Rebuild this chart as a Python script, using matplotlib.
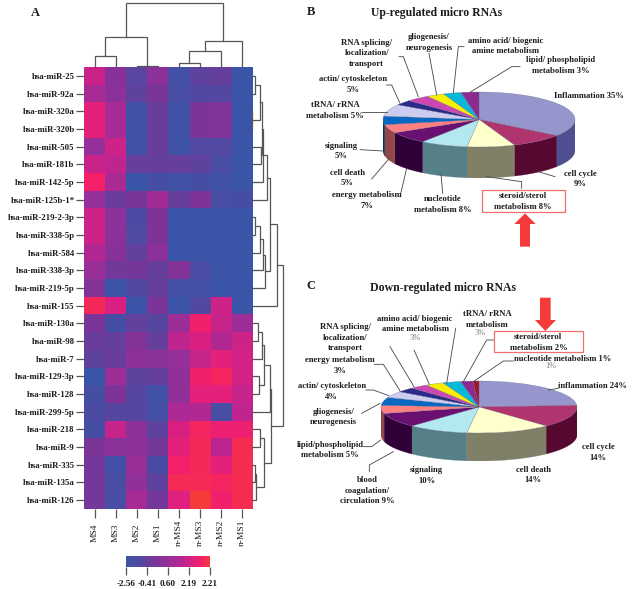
import numpy as np
import matplotlib
matplotlib.use("Agg")
import matplotlib.pyplot as plt
from matplotlib.colors import LinearSegmentedColormap
from matplotlib.patches import Polygon, Rectangle

W, H = 640, 589
plt.rcParams['font.family'] = ['Liberation Serif', 'DejaVu Serif']

# heatmap data, colour scale position 0 (blue) .. 10 (red)
samples = ["MS4", "MS3", "MS2", "MS1", "n-MS4", "n-MS3", "n-MS2", "n-MS1"]
mirnas = ["hsa-miR-25", "hsa-miR-92a", "hsa-miR-320a", "hsa-miR-320b", "hsa-miR-505",
          "hsa-miR-181b", "hsa-miR-142-5p", "hsa-miR-125b-1*", "hsa-miR-219-2-3p",
          "hsa-miR-338-5p", "hsa-miR-584", "hsa-miR-338-3p", "hsa-miR-219-5p", "hsa-miR-155",
          "hsa-miR-130a", "hsa-miR-98", "hsa-miR-7", "hsa-miR-129-3p", "hsa-miR-128",
          "hsa-miR-299-5p", "hsa-miR-218", "hsa-miR-9", "hsa-miR-335", "hsa-miR-135a",
          "hsa-miR-126"]
levels = [
    [7.3, 4.3, 2.0, 4.5, 0.6, 2.3, 2.6, 0.0],
    [5.8, 4.5, 2.2, 3.5, 1.0, 1.6, 1.6, 0.0],
    [8.2, 5.8, 0.5, 2.8, 0.5, 3.6, 3.9, 0.0],
    [8.2, 5.8, 0.5, 2.8, 0.5, 3.6, 3.9, 0.0],
    [5.0, 7.4, 0.5, 2.8, 0.3, 1.5, 1.5, 0.0],
    [7.3, 7.0, 2.6, 2.6, 2.6, 2.2, 1.0, 0.0],
    [9.0, 6.0, 0.0, 0.8, 0.4, 0.8, 0.5, 0.0],
    [5.0, 2.8, 3.5, 5.6, 2.6, 3.8, 1.0, 0.8],
    [7.4, 4.5, 1.2, 3.8, 0.0, 0.0, 0.0, 0.0],
    [7.4, 4.5, 1.4, 3.8, 0.0, 0.0, 0.0, 0.0],
    [6.4, 4.3, 2.4, 4.5, 0.0, 0.0, 0.0, 0.0],
    [5.2, 3.2, 3.3, 2.6, 4.0, 1.0, 0.0, 0.0],
    [4.0, 0.0, 1.6, 2.6, 0.6, 0.6, 0.0, 0.0],
    [9.3, 7.8, 0.0, 3.6, 0.0, 1.6, 7.4, 0.0],
    [3.6, 0.8, 2.4, 1.8, 5.4, 8.8, 7.2, 5.4],
    [2.8, 2.6, 4.0, 2.6, 7.0, 7.8, 6.4, 7.4],
    [2.2, 2.8, 4.6, 4.4, 5.0, 7.2, 8.2, 7.6],
    [0.0, 5.4, 2.2, 2.6, 4.8, 8.8, 9.2, 7.6],
    [0.8, 3.8, 1.8, 0.4, 4.8, 8.2, 8.2, 7.2],
    [1.2, 1.8, 1.8, 0.6, 6.2, 6.4, 1.0, 7.0],
    [0.8, 7.2, 4.6, 2.2, 7.8, 9.2, 8.6, 8.6],
    [3.6, 4.4, 4.6, 3.2, 8.2, 9.3, 6.8, 9.5],
    [3.2, 0.6, 5.2, 1.2, 9.0, 9.3, 8.2, 9.5],
    [3.2, 1.0, 4.8, 2.2, 9.4, 9.4, 9.2, 9.5],
    [3.2, 1.0, 5.8, 3.2, 8.0, 10.0, 8.8, 9.5],
]
colorbar_labels = ["-2.56", "-0.41", "0.60", "2.19", "2.21"]

# dendrograms as (left, right, height in px)
ms_group = ((0, 1, 11), (2, 3, 0.7), 30)
nms_group = (((4, 5, 4), 6, 16), 7, 26)
top_tree = (ms_group, nms_group, 64)

upper_a = ((0, 1, 3), (2, 3, 0.3), 7.5)
upper_b = (upper_a, (4, 5, 8.7), 9.5)
upper = ((upper_b, 6, 11.3), 7, 15)
middle = ((((8, 9, 3), 10, 8), 11, 10.5), 12, 13)
blue_side = ((upper, middle, 18), 13, 24.7)
lower_a = ((((14, 15, 6.3), 16, 9.7), (17, 18, 7), 12), 19, 18)
lower_b = ((20, 21, 8.3), ((22, 23, 3), 24, 4), 12.3)
side_tree = (blue_side, (lower_a, lower_b, 19), 31)

# pie data, percentages clockwise from 12 o'clock
up_values = [35, 9, 8, 8, 7, 5, 5, 7, 3, 4, 3, 3, 3]
up_colors = ["#9696CC", "#B0346E", "#FFFFCC", "#B4E8F0", "#6A1070", "#FF8080", "#0668C0",
             "#CCCCF0", "#2A2A88", "#CC48B0", "#F8F000", "#08B8D8", "#8C2A90"]
up_sides = ["#4E4E90", "#560830", "#808068", "#568088", "#300038", "#904848", "#033460",
            "#666680", "#151544", "#662458", "#807800", "#045C6C", "#461548"]
down_values = [24, 14, 14, 10, 9, 5, 5, 4, 3, 3, 3, 3, 2, 1]
down_colors = up_colors + ["#A01828"]
down_sides = up_sides + ["#500C14"]

up_labels = [
    ("RNA splicing/\nlocalization/\ntransport", 230, 160),
    ("gliogenesis/\nneurogenesis", 417, 128),
    ("amino acid/ biogenic\namine metabolism", 647, 138),
    ("lipid/ phospholipid\nmetabolism 3%", 813, 197),
    ("Inflammation 35%", 897, 288),
    ("actin/ cytoskeleton\n5%", 188, 253),
    ("tRNA/ rRNA\nmetabolism 5%", 135, 331),
    ("signaling\n5%", 153, 453),
    ("cell death\n5%", 171, 534),
    ("energy metabolism\n7%", 230, 602),
    ("nucleotide\nmetabolism 8%", 457, 613),
    ("steroid/sterol\nmetabolism 8%", 698, 605),
    ("cell cycle\n9%", 870, 537),
]
up_leaders = [
    [(327, 170), (340, 170), (385, 290)], [(417, 160), (440, 285)],
    [(522, 140), (505, 140), (490, 278)], [(690, 200), (665, 200), (540, 277)],
    [(290, 255), (305, 255), (330, 310)], [(215, 335), (290, 335)],
    [(210, 449), (280, 453)], [(245, 537), (298, 475)], [(330, 590), (350, 505)],
    [(458, 580), (453, 522)], [(695, 565), (695, 545), (590, 530)], [(795, 530), (745, 515)],
]
down_labels = [
    ("RNA splicing/\nlocalization/\ntransport", 165, 188),
    ("amino acid/ biogenic\namine metabolism", 375, 147),
    ("tRNA/ rRNA\nmetabolism", 592, 133),
    ("steroid/sterol\nmetabolism 2%", 745, 202),
    ("nucleotide metabolism 1%", 817, 252),
    ("energy metabolism\n3%", 150, 272),
    ("actin/ cytoskeleton\n4%", 125, 350),
    ("gliogenesis/\nneurogenesis", 130, 426),
    ("lipid/phospholipid\nmetabolism 5%", 120, 525),
    ("blood\ncoagulation/\ncirculation 9%", 233, 647),
    ("signaling\n10%", 410, 602),
    ("cell death\n14%", 730, 600),
    ("cell cycle\n14%", 924, 532),
    ("inflammation 24%", 906, 333),
]
down_notes = [("3%", 375, 188), ("3%", 570, 174), ("1%", 783, 272)]
down_leaders = [
    [(300, 215), (372, 335)], [(372, 225), (418, 328)], [(497, 160), (470, 325)],
    [(610, 195), (590, 195), (520, 320)], [(670, 258), (640, 258), (550, 320)],
    [(253, 268), (280, 268), (330, 347)], [(228, 345), (250, 345), (297, 362)],
    [(215, 415), (270, 385)], [(220, 515), (245, 515), (272, 495)],
    [(238, 590), (238, 570), (310, 530)], [(805, 340), (775, 345)],
]

heat_cmap = LinearSegmentedColormap.from_list("heat", [
    (0.0, "#3A55A8"), (0.2, "#5A45A0"), (0.35, "#7A3598"), (0.5, "#95309A"),
    (0.7, "#C0258F"), (0.8, "#E0207F"), (0.9, "#F5206A"), (1.0, "#F53A3A")])

LINE = "#555555"
TXT = "#1c1c1c"
FS = 6.2

fig = plt.figure(figsize=(W / 100, H / 100), dpi=100, facecolor="white")


def px_axes(x0, y0, x1, y1):
    # axes from pixel box, y measured from the top of the image
    ax = fig.add_axes([x0 / W, 1 - y1 / H, (x1 - x0) / W, (y1 - y0) / H])
    return ax


def draw_tree(ax, node, vertical):
    if not isinstance(node, tuple):
        return node, 0
    a, ha = draw_tree(ax, node[0], vertical)
    b, hb = draw_tree(ax, node[1], vertical)
    h = node[2]
    xs, ys = [a, a, b, b], [ha, h, h, hb]
    if vertical:
        ax.plot(xs, ys, color=LINE, lw=0.9, solid_joinstyle="miter")
    else:
        ax.plot(ys, xs, color=LINE, lw=0.9, solid_joinstyle="miter")
    return (a + b) / 2, h


# heatmap
ax = px_axes(84, 67, 252, 509)
ax.imshow(np.array(levels), cmap=heat_cmap, vmin=0, vmax=10, aspect="auto", interpolation="nearest")
ax.set_yticks(range(len(mirnas)), mirnas, fontsize=FS + 0.1, fontweight="bold", color=TXT)
ax.set_xticks(range(len(samples)), samples, rotation=90, fontsize=6.8, color=TXT)
ax.tick_params(axis="y", length=5.8, width=0.9, color=LINE, pad=1)
ax.tick_params(axis="x", length=6.5, width=0.9, color=LINE, pad=10.5)
for t in ax.get_xticklabels():
    t.set_verticalalignment("center")
for s in ax.spines.values():
    s.set_visible(False)

top = px_axes(84, 0, 252, 67)
draw_tree(top, top_tree, True)
top.set_xlim(-0.5, 7.5)
top.set_ylim(0, 67)
top.axis("off")

side = px_axes(252, 67, 292, 509)
draw_tree(side, side_tree, False)
side.set_xlim(0, 40)
side.set_ylim(24.5, -0.5)
side.axis("off")

# colour bar
cb = px_axes(126, 556, 210, 567)
cb.imshow(np.linspace(0, 10, 128)[None, :], cmap=heat_cmap, aspect="auto", extent=[0, 4, 0, 1])
cb.set_yticks([])
cb.set_xticks(range(5), colorbar_labels, fontsize=6.6, fontweight="bold", color=TXT)
cb.tick_params(axis="x", length=6, width=0.9, color=LINE, pad=3)
for s in cb.spines.values():
    s.set_visible(False)


def draw_pie(cx, cy, rx, ry, depth, values, colors, sides):
    pie = px_axes(cx - rx, cy - ry, cx + rx, cy + ry + depth)
    d = depth / ry
    edges = np.cumsum([0] + values) / sum(values) * 360
    for i in range(len(values)):
        lo, hi = max(edges[i], 90), min(edges[i + 1], 270)
        if hi <= lo:
            continue
        t = np.radians(np.linspace(lo, hi, 40))
        xs = np.sin(t)
        ys = np.cos(t)
        pie.fill(np.r_[xs, xs[::-1]], np.r_[ys, ys[::-1] - d], color=sides[i], lw=0.2)
    pie.pie(values, colors=colors, startangle=90, counterclock=False,
            wedgeprops=dict(linewidth=0.2, edgecolor="#66668a"))
    pie.set_aspect("auto")
    pie.set_xlim(-1, 1)
    pie.set_ylim(-1 - d, 1)
    pie.patch.set_alpha(0)


draw_pie(479, 119.5, 96, 27.5, 31, up_values, up_colors, up_sides)
draw_pie(479, 407, 98, 26, 28, down_values, down_colors, down_sides)

# overlay in image pixels for the notes, leaders and arrows
ov = fig.add_axes([0, 0, 1, 1])
ov.set_xlim(0, W)
ov.set_ylim(H, 0)
ov.axis("off")
ov.patch.set_alpha(0)


def zoomed(x, y, y0):
    return 290 + x / 3, y0 + y / 3


def notes(labels, leaders, y0, box, arrow):
    for pts in leaders:
        xy = [zoomed(x, y, y0) for x, y in pts]
        ov.plot([p[0] for p in xy], [p[1] for p in xy], color="#444444", lw=0.6)
    for txt, x, y in labels:
        px, py = zoomed(x, y, y0)
        ov.text(px, py, txt, ha="center", va="center", fontsize=FS, fontweight="bold",
                color=TXT, linespacing=1.4)
    bx0, by0 = zoomed(box[0], box[1], y0)
    bx1, by1 = zoomed(box[2], box[3], y0)
    ov.add_patch(Rectangle((bx0, by0), bx1 - bx0, by1 - by0, fill=False, ec="#EE7070", lw=0.9))
    ov.add_patch(Polygon([zoomed(x, y, y0) for x, y in arrow], fc="#F53A3A", ec="none"))


notes(up_labels, up_leaders, 0, (575, 571, 825, 635),
      [(705, 640), (737, 672), (720, 672), (720, 740), (690, 740), (690, 672), (673, 672)])
notes(down_labels, down_leaders, 275, (612, 169, 878, 232),
      [(766, 168), (798, 135), (782, 135), (782, 68), (750, 68), (750, 135), (735, 135)])
for txt, x, y in down_notes:
    px, py = zoomed(x, y, 275)
    ov.text(px, py, txt, ha="center", va="center", fontsize=6, color="#777777")

ov.text(35, 13, "A", ha="center", va="center", fontsize=9, fontweight="bold", color=TXT)
ov.text(311, 12, "B", ha="center", va="center", fontsize=9, fontweight="bold", color=TXT)
ov.text(311, 286, "C", ha="center", va="center", fontsize=9, fontweight="bold", color=TXT)
ov.text(437, 13, "Up-regulated micro RNAs", ha="center", va="center", fontsize=8.5,
        fontweight="bold", color=TXT)
ov.text(443, 288, "Down-regulated micro RNAs", ha="center", va="center", fontsize=8.5,
        fontweight="bold", color=TXT)

fig.savefig("out.png", dpi=100)
